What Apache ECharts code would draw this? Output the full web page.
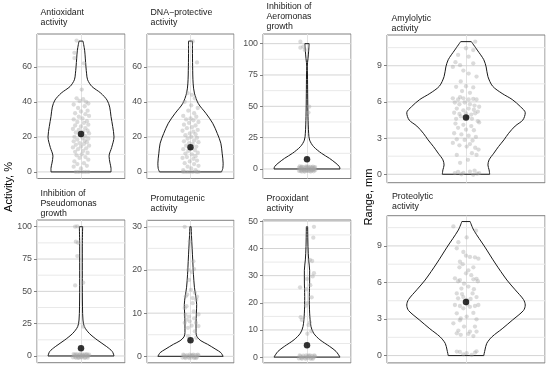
<!DOCTYPE html>
<html><head><meta charset="utf-8">
<script src="https://cdn.jsdelivr.net/npm/echarts@6/dist/echarts.min.js"></script>
<style>html,body{margin:0;padding:0;background:#fff}#c{width:550px;height:368px}</style>
</head><body><div id="c"></div>
<script>
// ---------------- DATA ----------------
const titles = ["Antioxidant\nactivity", "DNA\u2212protective\nactivity", "Inhibition of\nAeromonas\ngrowth", "Amylolytic\nactivity",
                "Inhibition of\nPseudomonas\ngrowth", "Promutagenic\nactivity", "Prooxidant\nactivity", "Proteolytic\nactivity"];
const yTitleLeft = "Activity, %";
const yTitleRight = "Range, mm";

const yLimits = [[-3.75, 78.75], [-3.75, 78.75], [-7.6, 107.7], [-0.70, 11.55],
                 [-5.2, 105.2], [-1.5, 31.5], [-2.1, 50.5], [-0.6, 11.48]];
const majorTicks = [[0,20,40,60],[0,20,40,60],[0,25,50,75,100],[0,3,6,9],
                    [0,25,50,75,100],[0,10,20,30],[0,10,20,30,40,50],[0,3,6,9]];
const minorTicks = [[10,30,50,70],[10,30,50,70],[12.5,37.5,62.5,87.5],[1.5,4.5,7.5,10.5],
                    [12.5,37.5,62.5,87.5],[5,15,25],[5,15,25,35,45],[1.5,4.5,7.5,10.5]];

const means = [21.7, 14.1, 7.7, 4.7, 5.9, 3.7, 4.4, 4.4];

// violin outlines: y levels and relative half-widths (density, max = 1)
const densY = [
  [0,2,5,9,14,20,26,31.6,37,41,45,48.8,52.6,56,60,65,69.5,74.7],
  [0,2,5,10.7,16.4,22,27.8,33.5,39,45,50.7,60,70,74.7],
  [0,1.9,4.5,8.5,12.5,17.8,23,28.5,41.8,60,75,82,88,94,100],
  [0,0.36,0.77,1.2,1.75,2.3,2.85,3.4,4.0,4.5,5.1,5.6,6.2,6.7,7.3,8.1,8.9,9.5,10.3,11.0],
  [0,3.4,7.2,12.4,17.5,22.7,27.8,38,60,85,100],
  [0,0.85,1.6,2.8,3.6,4.5,5.5,7.5,10,12,14,16,19,22,25,28,30],
  [0,2.1,3.9,6.4,8.8,11.3,16.2,22.3,28.4,32,35.8,40.7,48],
  [0,0.46,1.0,1.55,2.2,2.9,3.7,4.15,4.6,5.4,6.2,7.6,8.9,10.3,11.0]
];
const densW = [
  [0.91,0.91,0.88,0.85,0.93,1.0,0.96,0.91,0.87,0.79,0.6,0.33,0.2,0.17,0.15,0.13,0.11,0.06],
  [0.95,0.99,1.0,0.97,0.93,0.82,0.68,0.47,0.24,0.12,0.08,0.065,0.06,0.06],
  [1.0,0.98,0.88,0.68,0.44,0.2,0.08,0.05,0.03,0.02,0.015,0.008,0.03,0.05,0.065],
  [0.40,0.39,0.37,0.39,0.47,0.55,0.64,0.72,0.83,0.96,1.0,0.92,0.78,0.61,0.45,0.37,0.34,0.30,0.19,0.09],
  [1.0,0.95,0.78,0.49,0.25,0.1,0.06,0.045,0.04,0.04,0.05],
  [1.0,0.93,0.78,0.52,0.32,0.2,0.17,0.17,0.18,0.19,0.16,0.12,0.09,0.07,0.05,0.03,0.02],
  [1.0,0.88,0.69,0.39,0.2,0.12,0.08,0.07,0.08,0.08,0.05,0.03,0.02],
  [0.30,0.32,0.35,0.44,0.61,0.78,0.97,1.0,0.97,0.83,0.69,0.49,0.32,0.13,0.07]
];

// jittered observations [jitter offset, value]
const ptsAntiox = [[-0.06,75],[-0.09,68],[-0.09,65],[0.04,62],[0.01,47],[-0.06,42],[0.03,41.5],[-0.02,40.5],[0.07,40],[0.1,39],[-0.1,38.5],[0.05,37.5],[-0.04,36.5],[0.09,35],[0.0,34.5],[-0.08,33.5],[0.06,33],[0.11,32],[-0.03,31.5],[0.02,30.5],[-0.1,30],[0.08,29],[-0.05,28.5],[0.04,28],[0.1,27],[-0.08,26.5],[0.0,26],[0.06,25],[-0.11,24.5],[-0.03,24],[0.09,23.5],[0.03,23],[-0.07,22.5],[0.11,22],[-0.01,21],[0.06,20.5],[-0.09,20],[0.02,19.5],[0.1,19],[-0.05,18.5],[0.05,18],[-0.1,17.5],[0.08,17],[-0.02,16.5],[0.04,16],[-0.07,15.5],[0.11,15],[0.0,14.5],[-0.11,14],[0.07,13.5],[-0.04,13],[0.03,12],[-0.08,11.5],[0.09,11],[0.01,10],[-0.06,9.5],[0.06,8.5],[-0.02,8],[0.1,7],[-0.09,6],[0.04,5],[-0.05,4.5],[0.08,3.5],[-0.1,3],[0.0,2],[-0.07,0],[-0.03,0],[0.02,0],[0.06,0],[0.1,0]];
const ptsDNA = [[0.03,74.5],[0.09,62.5],[-0.04,45],[0.02,44],[0.06,42],[-0.08,40],[0.01,38],[0.1,36.5],[-0.03,35],[0.05,33.5],[-0.1,32],[0.08,31.5],[0.0,30.5],[-0.06,30],[0.04,29.5],[0.11,28.5],[-0.02,28],[-0.09,27],[0.07,26.5],[0.02,25.5],[-0.05,25],[0.1,24],[-0.11,23.5],[0.04,23],[-0.01,22],[0.07,21.5],[-0.07,21],[0.01,20],[0.09,19.5],[-0.04,19],[0.05,18],[-0.09,17.5],[0.11,17],[-0.02,16.5],[0.03,16],[-0.06,15],[0.08,14.5],[0.0,13.5],[-0.1,13],[0.06,12.5],[-0.03,12],[0.1,11],[-0.07,10.5],[0.02,10],[0.07,9],[-0.05,8.5],[-0.11,8],[0.04,7.5],[0.09,6.5],[-0.01,6],[-0.08,5],[0.05,4.5],[0.11,3.5],[-0.04,3],[0.01,2],[-0.1,1],[0.07,1],[-0.06,0],[-0.02,0],[0.03,0],[0.08,0],[-0.1,0],[0.11,0]];
const ptsAero = [[-0.09,101.6],[-0.05,97.6],[-0.09,96.8],[-0.03,95],[0.03,49.7],[0.02,45],
  [-0.11,-1.5],[-0.09,0.5],[-0.07,-2],[-0.05,1.5],[-0.03,-0.5],[-0.01,2],[0.01,-1.5],[0.03,0.5],[0.05,-2],[0.07,1],[0.09,-0.5],[0.11,1.5],[-0.1,2],[-0.08,-1],[-0.06,0],[-0.04,-1.8],[-0.02,1],[0,-1],[0.02,1.8],[0.04,-0.3],[0.06,-1.2],[0.08,1.8],[0.1,0],[-0.11,0.8],[-0.07,1.8],[-0.03,-2],[0.01,0.3],[0.05,1.7],[0.09,-1.8],[0.11,-1],[-0.09,-1.7],[-0.05,-0.7],[-0.01,-1.3],[0.03,-1.7],[0.07,-1],[-0.08,1.2],[0.0,1.5],[0.06,0.5],[0.1,1]];
const ptsAmyl = [[0.07,11.0],[0.0,10.45],[0.055,10.3],[-0.06,9.9],[0.02,9.75],[-0.08,9.3],[0.055,9.2],[-0.1,8.9],[-0.045,9.05],[-0.02,8.6],[0.02,8.35],[0.08,8.1],[-0.04,7.7],[0.0,7.3],[0.055,7.2],[-0.075,7.25],[-0.03,6.9],[0.03,6.75],[-0.1,6.3],[-0.06,6.2],[-0.045,6.4],[-0.02,6.3],[0.02,6.2],[0.055,6.25],[0.08,6.2],[-0.085,5.95],[-0.05,5.8],[-0.01,5.95],[0.03,5.8],[0.065,5.7],[0.1,5.6],[-0.07,5.45],[-0.02,5.3],[0.02,5.45],[0.06,5.35],[0.09,5.2],[-0.09,5.1],[-0.05,5.0],[0.0,5.05],[0.04,4.95],[0.07,5.05],[-0.04,4.8],[-0.075,4.6],[0.015,4.75],[0.045,4.6],[0.09,4.4],[-0.08,4.2],[-0.02,4.1],[0.04,4.0],[0.1,4.3],[-0.06,3.85],[0.0,3.7],[0.06,3.65],[-0.09,3.4],[-0.035,3.3],[0.02,3.2],[0.075,3.1],[-0.07,2.9],[-0.01,2.85],[0.05,2.8],[-0.1,2.6],[0.03,2.5],[-0.05,2.4],[0.005,2.3],[0.07,2.2],[0.095,2.05],[-0.07,1.6],[0.045,1.75],[0.015,1.2],[-0.045,0.95],[0.08,1.6],[-0.085,0.1],[-0.06,0.2],[-0.02,0.12],[0.03,0.22],[0.065,0.3],[0.085,0.05],[0.055,-0.05],[-0.035,0.0],[0.1,0.1]];
const ptsPseudo = [[-0.08,100],[-0.05,100.3],[-0.07,88.4],[-0.04,87.6],[-0.05,77.3],[-0.08,54.6],[0.03,56.7],[0.03,22.7],
  [-0.11,-1],[-0.09,0.6],[-0.07,-1.4],[-0.05,1.2],[-0.03,-0.4],[-0.01,1.4],[0.01,-1.1],[0.03,0.4],[0.05,-1.5],[0.07,0.9],[0.09,-0.3],[0.11,1.1],[-0.1,1.5],[-0.08,-0.7],[-0.06,0.1],[-0.04,-1.2],[-0.02,0.8],[0.0,-0.8],[0.02,1.3],[0.04,-0.2],[0.06,-1],[0.08,1.4],[0.1,0.2],[-0.07,1.3],[-0.03,-1.5],[0.01,0.2],[0.05,1.2],[0.09,-1.3]];
const ptsPromut = [[-0.08,30],[-0.01,26.6],[-0.03,20],[0.05,20.2],[0.04,22],[-0.02,17.7],[0.005,15.4],[0.06,14.7],[-0.065,13.9],[0.03,13.5],[0.08,13.1],[-0.055,11.6],[-0.08,11.2],[0.045,10.4],[0.11,9.7],[-0.055,8.5],[-0.01,8.1],[0.075,7.75],[-0.08,7.75],[0.015,7.1],[0.11,7.0],[-0.035,6.6],[0.06,5.8],[-0.035,4.7],[0.08,4.3],[0.03,12.3],[-0.02,9.2],[0.05,8.8],[0.09,13.8],[-0.045,14.3],[0.02,19.5],[-0.07,9.6],
  [-0.11,-0.3],[-0.09,0.2],[-0.07,-0.4],[-0.05,0.3],[-0.03,-0.1],[-0.01,0.4],[0.01,-0.3],[0.03,0.1],[0.05,-0.4],[0.07,0.3],[0.09,-0.1],[0.11,0.2],[-0.1,0.4],[-0.06,0.0],[-0.02,-0.4],[0.02,0.3],[0.06,-0.2],[0.1,0.4],[-0.08,-0.2],[0.0,0.1],[0.04,0.4],[0.08,-0.4]];
const ptsProox = [[0.095,48],[0.086,44],[0.04,35.8],[0.07,35.4],[0.095,30.9],[0.077,29.7],[0.0,28.8],[-0.095,25.7],[-0.01,25],[0.045,26.5],[0.064,22],[0.005,19.9],[-0.015,18.9],[-0.086,14.7],[-0.07,13.7],[0.04,12.7],[0.02,11.8],[0.005,8.6],[0.06,9.5],
  [-0.11,-0.5],[-0.09,0.3],[-0.07,-0.6],[-0.05,0.5],[-0.03,-0.2],[-0.01,0.6],[0.01,-0.4],[0.03,0.2],[0.05,-0.6],[0.07,0.4],[0.09,-0.1],[0.11,0.3],[-0.1,0.6],[-0.06,0.0],[-0.02,-0.6],[0.02,0.5],[0.06,-0.3],[0.1,0.6],[-0.08,-0.3],[0.0,0.1],[0.04,0.6],[0.08,-0.6]];
const ptsProteo = [[-0.096,10.6],[0.076,10.25],[0.005,9.7],[-0.058,9.3],[-0.07,8.8],[-0.02,8.5],[0.0,8.2],[0.03,8.1],[0.068,8.06],[0.094,7.95],[-0.046,7.7],[-0.025,7.5],[-0.05,7.24],[0.056,7.24],[0.018,7.0],[0.0,6.75],[0.04,6.6],[-0.084,6.34],[-0.06,6.1],[-0.046,6.2],[0.056,6.26],[0.08,6.3],[0.09,6.1],[-0.015,5.9],[0.018,5.66],[-0.035,5.5],[0.06,5.45],[-0.07,5.1],[-0.03,5.05],[0.05,5.1],[0.08,4.8],[-0.06,4.7],[0.005,4.56],[-0.02,4.8],[0.035,4.65],[-0.084,4.15],[-0.046,4.07],[0.03,4.0],[0.068,4.07],[0.094,4.15],[-0.02,3.88],[0.01,4.2],[-0.07,3.47],[0.056,3.5],[0.005,3.2],[-0.04,3.05],[0.08,2.98],[-0.046,2.9],[-0.096,2.65],[-0.015,2.38],[0.068,2.38],[-0.058,2.05],[0.03,1.97],[0.08,1.97],[-0.07,1.83],[-0.04,1.7],[0.018,1.78],[0.056,1.6],[-0.07,0.33],[-0.046,0.3],[0.005,0.2],[0.068,0.25],[0.08,0.35],[0.043,0.05],[-0.02,0.1]];
const points = [ptsAntiox, ptsDNA, ptsAero, ptsAmyl, ptsPseudo, ptsPromut, ptsProox, ptsProteo];

// ---------------- LAYOUT ----------------
const layout = [
  {l:37, t:34,    w:88,  h:144.5, tx:40.5, ty:7.5},
  {l:147, t:34,   w:87,  h:144.5, tx:150.5, ty:7.5},
  {l:263, t:34,   w:88,  h:144.5, tx:266.5, ty:1.7},
  {l:387, t:35,   w:158, h:147.7, tx:391.5, ty:13.3},
  {l:37, t:220,   w:88,  h:142.7, tx:40.5, ty:189},
  {l:147, t:220.3,w:87,  h:142.5, tx:150.5, ty:194},
  {l:263, t:220,  w:88,  h:142.8, tx:266.5, ty:193.3},
  {l:387, t:215.7,w:158, h:147.2, tx:392, ty:191.7}
];
const FONT = '"Liberation Sans", Arial, Helvetica, sans-serif';
const HALF = 0.45;
const XMIN = -0.6, XMAX = 0.6;

const option = {animation:false, backgroundColor:'#fff', grid:[], xAxis:[], yAxis:[], series:[], title:[], graphic:[]};

titles.forEach((t, i) => {
  const L = layout[i];
  option.grid.push({left:L.l, top:L.t, width:L.w, height:L.h, show:true, borderColor:'#808080', borderWidth:1, backgroundColor:'transparent'});
  option.xAxis.push({type:'value', gridIndex:i, min:XMIN, max:XMAX, interval:0.6,
    axisLine:{show:false, onZero:false}, axisTick:{show:false}, axisLabel:{show:false},
    splitLine:{show:true, lineStyle:{color:'#e2e2e2', width:1}}});
  option.yAxis.push({type:'value', gridIndex:i, min:yLimits[i][0], max:yLimits[i][1], position:'left',
    axisLine:{show:false, onZero:false},
    axisTick:{show:true, length:3, customValues:majorTicks[i], lineStyle:{color:'#808080', width:1}},
    axisLabel:{show:true, customValues:majorTicks[i], fontSize:8.8, color:'#4d4d4d', margin:5, fontFamily:FONT},
    splitLine:{show:false}});

  // horizontal grid lines, drawn as thin line series through the axes
  minorTicks[i].forEach(v => option.series.push({type:'line', xAxisIndex:i, yAxisIndex:i, symbol:'none', silent:true, z:1,
    data:[[XMIN, v], [XMAX, v]], lineStyle:{color:'#e9e9e9', width:1}}));
  majorTicks[i].forEach(v => option.series.push({type:'line', xAxisIndex:i, yAxisIndex:i, symbol:'none', silent:true, z:1,
    data:[[XMIN, v], [XMAX, v]], lineStyle:{color:'#d4d4d4', width:1}}));

  const ys = densY[i], ws = densW[i];
  const right = ys.map((y, k) => [ws[k] * HALF, y]);
  const left = ys.map((y, k) => [-ws[k] * HALF, y]);
  const n = ys.length - 1;
  const lineBase = {type:'line', xAxisIndex:i, yAxisIndex:i, symbol:'none', silent:true, z:3,
                    lineStyle:{color:'#1a1a1a', width:1}};
  option.series.push(Object.assign({}, lineBase, {data:right, smooth:0.3}));
  option.series.push(Object.assign({}, lineBase, {data:left, smooth:0.3}));
  option.series.push(Object.assign({}, lineBase, {data:[[-ws[n]*HALF, ys[n]], [ws[n]*HALF, ys[n]]]}));
  option.series.push(Object.assign({}, lineBase, {data:[[-ws[0]*HALF, ys[0]], [ws[0]*HALF, ys[0]]]}));
  option.series.push({type:'scatter', xAxisIndex:i, yAxisIndex:i, data:points[i], symbolSize:4.3, silent:true, z:5,
    itemStyle:{color:'rgba(165,165,165,0.5)'}});
  option.series.push({type:'scatter', xAxisIndex:i, yAxisIndex:i, data:[[0, means[i]]], symbolSize:6.5, silent:true, z:6,
    itemStyle:{color:'#000'}});

  option.title.push({text:t, left:L.tx, top:L.ty, padding:0,
    textStyle:{fontSize:8.8, fontWeight:'normal', color:'#1a1a1a', lineHeight:10, fontFamily:FONT}});
});

option.graphic.push({type:'text', x:9, y:187, rotation:Math.PI/2,
  style:{text:yTitleLeft, fontSize:11, fill:'#000', align:'center', verticalAlign:'middle', fontFamily:FONT}});
option.graphic.push({type:'text', x:369, y:197, rotation:Math.PI/2,
  style:{text:yTitleRight, fontSize:11, fill:'#000', align:'center', verticalAlign:'middle', fontFamily:FONT}});

const chart = echarts.init(document.getElementById('c'), null, {renderer:'canvas'});
chart.setOption(option);
</script></body></html>
